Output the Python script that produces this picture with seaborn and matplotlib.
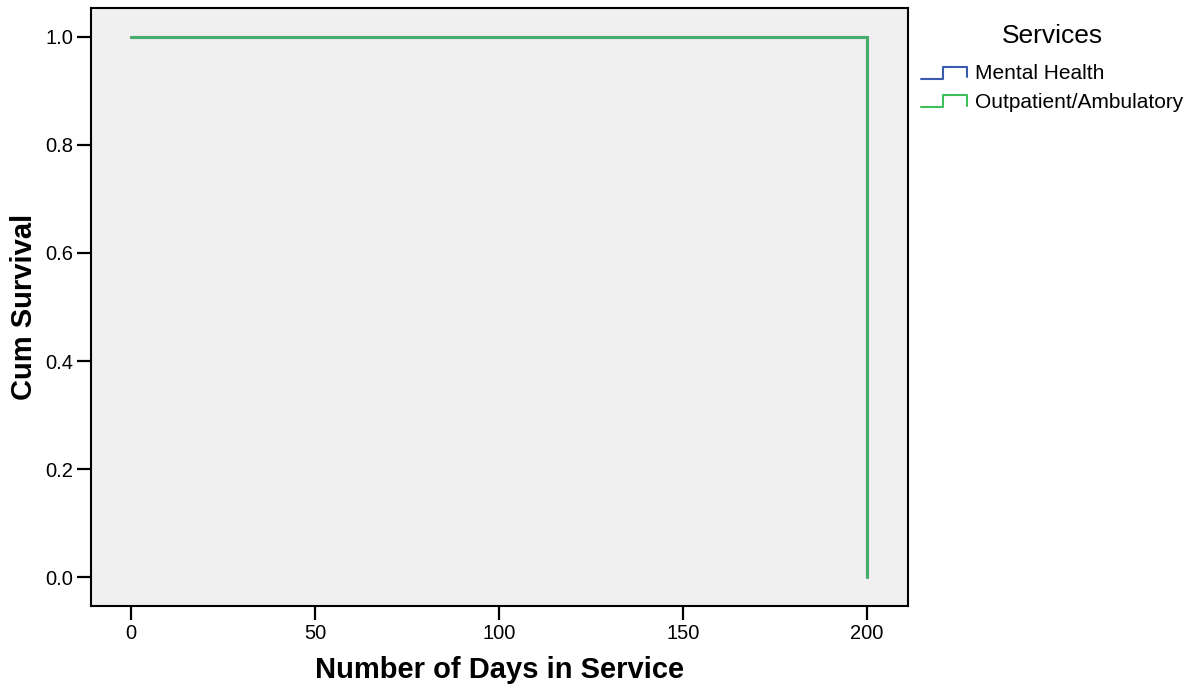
import matplotlib
matplotlib.use("Agg")
import matplotlib.pyplot as plt
import seaborn as sns
import pandas as pd
from matplotlib.legend_handler import HandlerBase
from matplotlib.lines import Line2D

services = ["Mental Health", "Outpatient/Ambulatory"]
mh_days = [0, 200, 200]
mh_surv = [1.0, 1.0, 0.0]
op_days = [0, 200, 200]
op_surv = [1.0, 1.0, 0.0]
colors = {"Mental Health": "#3a5cb0", "Outpatient/Ambulatory": "#3dbf5a"}

rows = []
for s, d, v in [(services[0], mh_days, mh_surv), (services[1], op_days, op_surv)]:
    for i, (x, y) in enumerate(zip(d, v)):
        rows.append({"Service": s, "Days": x, "Surv": y, "order": i})
df = pd.DataFrame(rows)

sns.set_style("ticks", rc={"text.color": "black", "axes.labelcolor": "black",
                           "xtick.color": "black", "ytick.color": "black",
                           "axes.edgecolor": "black"})
plt.rcParams["font.family"] = ["Liberation Sans", "DejaVu Sans"]

fig = plt.figure(figsize=(11.94, 6.96), dpi=100)
ax = fig.add_axes([91/1194, 1-606/696, (908-91)/1194, (606-8)/696])
ax.set_facecolor("#f0f0f0")

for s in services:
    sub = df[df.Service == s]
    sns.lineplot(data=sub, x="Days", y="Surv", sort=False, estimator=None,
                 color=colors[s], lw=2.2, ax=ax, legend=False)
ax.lines[-1].set_color("#47ad6b")

ax.set_xlim(-10.9, 211.1)
ax.set_ylim(-0.0537, 1.0537)
ax.set_xticks([0, 50, 100, 150, 200])
ax.set_yticks([0.0, 0.2, 0.4, 0.6, 0.8, 1.0])
ax.set_yticklabels(["0.0", "0.2", "0.4", "0.6", "0.8", "1.0"])
ax.tick_params(axis="both", labelsize=14.5, length=10, width=1.6, colors="black",
               direction="out", pad=3)
for sp in ax.spines.values():
    sp.set_linewidth(1.5)
    sp.set_color("black")
    sp.set_visible(True)
ax.set_xlabel("Number of Days in Service", fontsize=21, fontweight="bold", labelpad=9)
ax.set_ylabel("Cum Survival", fontsize=21, fontweight="bold", labelpad=5)


class StepHandler(HandlerBase):
    def create_artists(self, legend, orig_handle, xdescent, ydescent, width, height, fontsize, trans):
        x0, w, h = -xdescent, width, height
        y0 = -ydescent
        xs = [x0, x0 + 0.48 * w, x0 + 0.48 * w, x0 + w, x0 + w]
        ys = [y0 + 0.05 * h, y0 + 0.05 * h, y0 + 0.85 * h, y0 + 0.85 * h, y0 + 0.15 * h]
        ln = Line2D(xs, ys, color=orig_handle.get_color(), lw=1.5, transform=trans)
        return [ln]


handles = [Line2D([], [], color=colors[s]) for s in services]
leg = fig.legend(handles, services, title="Services", loc="upper left",
                 bbox_to_anchor=(902/1194, 1-5/696), frameon=False,
                 fontsize=15, title_fontsize=19, handlelength=2.2,
                 handletextpad=0.4, labelspacing=0.45,
                 handler_map={Line2D: StepHandler()})
leg._legend_box.sep = 12

fig.savefig("out.png", dpi=100)
